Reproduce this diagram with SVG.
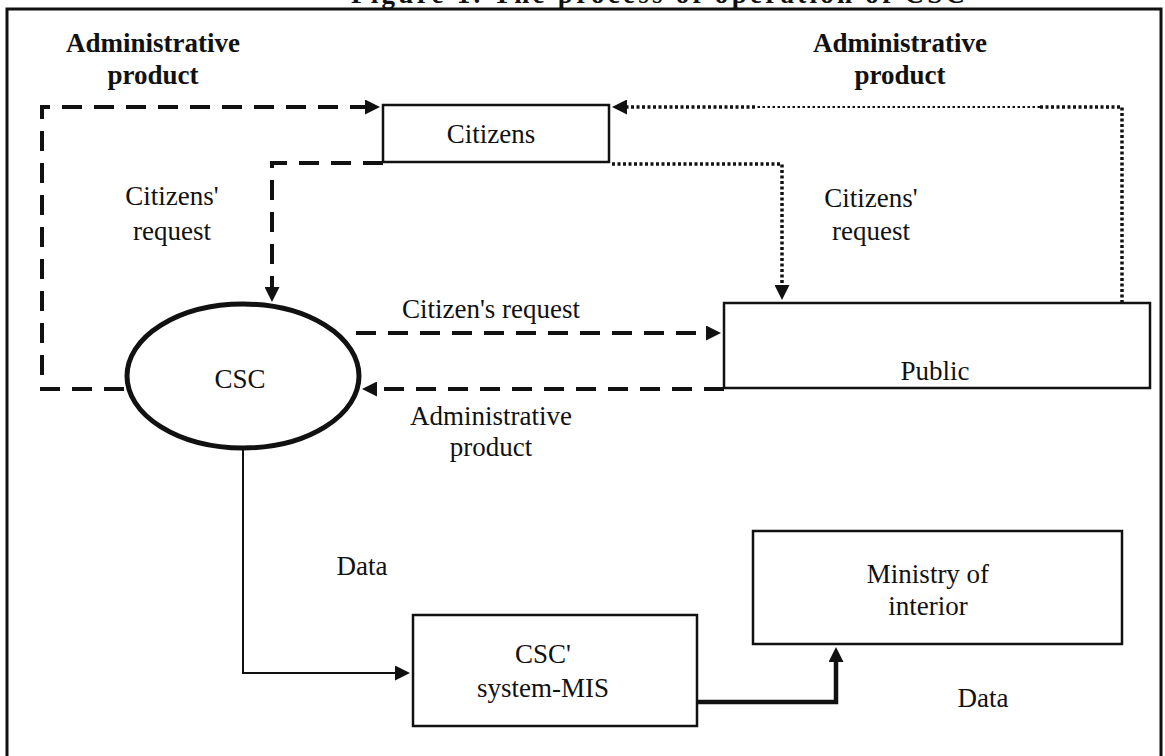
<svg xmlns="http://www.w3.org/2000/svg" width="1165" height="756" viewBox="0 0 1165 756">
<defs>
<style>
.t{font-family:"Liberation Serif","Times New Roman",serif;font-size:27px;fill:#111;text-anchor:middle}
.b{font-weight:bold}
.box{fill:#fff;stroke:#111;stroke-width:2.5}
.dash{fill:none;stroke:#111;stroke-width:4;stroke-dasharray:20 12}
.dot{fill:none;stroke:#111;stroke-width:3.5;stroke-dasharray:3 2.5}
.dotthin{fill:none;stroke:#111;stroke-width:1.8;stroke-dasharray:2.5 2.5}
.solid{fill:none;stroke:#111;stroke-width:2}
.thick{fill:none;stroke:#111;stroke-width:4.5}
</style>
<marker id="ah" viewBox="0 0 10 10" refX="0" refY="5" markerUnits="userSpaceOnUse" markerWidth="18" markerHeight="15" orient="auto">
<path d="M0,0 L10,5 L0,10 z" fill="#111"/>
</marker>
</defs>
<rect x="0" y="0" width="1165" height="756" fill="#fff"/>
<text class="t b" x="351" y="3" textLength="614" lengthAdjust="spacing" style="text-anchor:start">Figure 1. The process of operation of CSC</text>
<rect x="7" y="9" width="1154" height="760" fill="none" stroke="#111" stroke-width="3"/>

<g id="labels">
<text class="t b" x="153" y="52">Administrative</text>
<text class="t b" x="153" y="84">product</text>
<text class="t b" x="900" y="52">Administrative</text>
<text class="t b" x="900" y="84">product</text>
<text class="t" x="172" y="205">Citizens'</text>
<text class="t" x="172" y="240">request</text>
<text class="t" x="871" y="207">Citizens'</text>
<text class="t" x="871" y="240">request</text>
<text class="t" x="491" y="318">Citizen's request</text>
<text class="t" x="491" y="425">Administrative</text>
<text class="t" x="491" y="456">product</text>
<text class="t" x="362" y="575">Data</text>
<text class="t" x="983" y="707">Data</text>
</g>

<g id="connectors">
<path class="dash" d="M124,389 H42 V107 H365" marker-end="url(#ah)"/>
<path class="dash" d="M383,163 H272 V287" marker-end="url(#ah)"/>
<path class="dash" d="M356,333 H706" marker-end="url(#ah)"/>
<path class="dash" d="M724,389 H377" marker-end="url(#ah)"/>
<path class="dot" d="M612,164 H782 V285" marker-end="url(#ah)"/>
<path class="dot" d="M1122,303 V107 H1040"/>
<path class="dotthin" d="M1040,107 H755"/>
<path class="dot" d="M755,107 H627" marker-end="url(#ah)"/>
<path class="solid" d="M243,448 V673 H395" marker-end="url(#ah)"/>
<path class="thick" d="M697,702 H836 V662" marker-end="url(#ah)"/>
</g>

<g id="citizens">
<rect class="box" x="383" y="105" width="226" height="57"/>
<text class="t" x="491" y="143">Citizens</text>
</g>

<g id="csc">
<ellipse cx="243" cy="376" rx="116" ry="72" fill="#fff" stroke="#111" stroke-width="5"/>
<text class="t" x="240" y="388">CSC</text>
</g>

<g id="public">
<rect class="box" x="724" y="303" width="426" height="85"/>
<text class="t" x="935" y="380">Public</text>
</g>

<g id="mis">
<rect class="box" x="413" y="615" width="284" height="111"/>
<text class="t" x="543" y="663">CSC'</text>
<text class="t" x="543" y="697">system-MIS</text>
</g>

<g id="ministry">
<rect class="box" x="753" y="531" width="369" height="113" stroke-width="3"/>
<text class="t" x="928" y="583">Ministry of</text>
<text class="t" x="928" y="615">interior</text>
</g>
</svg>
